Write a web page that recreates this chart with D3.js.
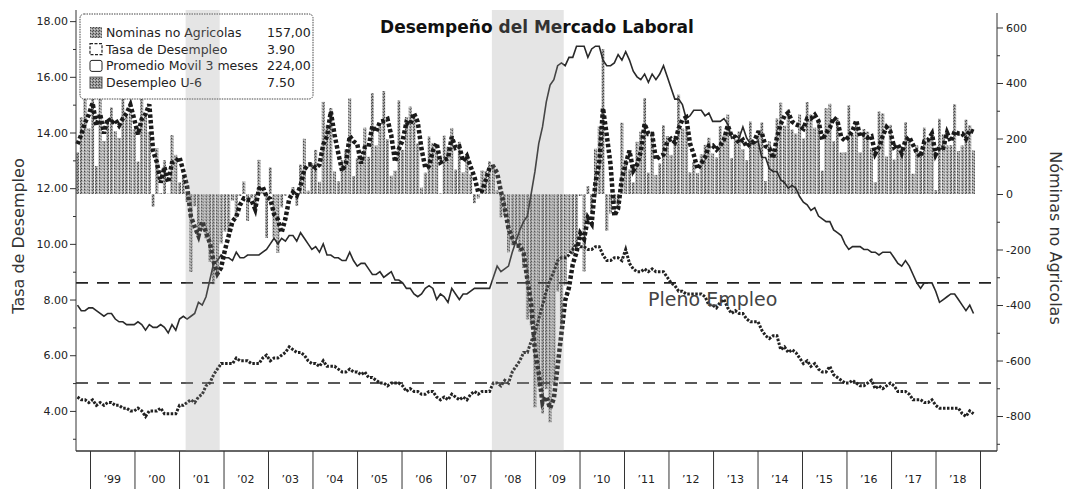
<!DOCTYPE html>
<html><head><meta charset="utf-8">
<script src="https://cdn.jsdelivr.net/npm/d3@7"></script>
<style>
body{margin:0;background:#fff}
svg{display:block}
text{font-family:"DejaVu Sans",Verdana,sans-serif}
</style>
</head><body>
<svg id="c" width="1067" height="489"></svg>
<script>
// ---------------- DATA (monthly, Oct 1998 - Jul 2018) ----------------
const startMonth = new Date(1998, 9, 1);

// Nominas no Agricolas (monthly change, thousands) - right axis
const nominas = [
  150, 276, 345,
  237, 402, 101, 362, 191, 264, 312, 227, 202, 387, 283, 294,
  233, 117, 460, 286, 224, -46, 165, 3, 122, 1, 212, 141,
  42, 67, -29, -281, -44, -128, -125, -160, -244, -325, -292, -178,
  -135, -137, -24, -85, -7, 45, -97, -15, -54, 123, 9, -158,
  96, -157, -212, -48, -6, -1, 25, -42, 106, 199, 12, 111,
  159, 44, 332, 249, 310, 81, 46, 122, 161, 345, 65, 129,
  136, 239, 134, 363, 175, 243, 371, 197, 66, 84, 337, 159,
  277, 315, 280, 182, 23, 77, 207, 184, 157, 2, 210, 171,
  238, 88, 188, 78, 144, 71, -33, -16, 85, 82, 118, 97,
  13, -84, -78, -210, -185, -165, -209, -266, -452, -473, -769, -695,
  -791, -703, -823, -686, -351, -470, -329, -212, -219, -200, -7, -279,
  28, -69, 163, 243, 522, -133, -70, -34, -52, 257, 123, 88,
  42, 188, 225, 346, 77, 225, 69, 110, 248, 209, 141, 209,
  358, 237, 233, 78, 115, 76, 143, 177, 203, 146, 132, 244,
  211, 286, 130, 197, 226, 162, 122, 261, 190, 212, 258, 47,
  190, 151, 272, 329, 246, 304, 232, 218, 286, 200, 331, 286,
  239, 265, 84, 309, 325, 190, 274, 150, 151, 319, 215, 260,
  150, 234, 225, 166, 43, 297, 291, 135, 249, 124, 164, 155,
  259, 200, 73, 175, 155, 239, 190, 221, 14, 271, 216, 175,
  176, 324, 155, 175, 268, 248, 157
];

// Promedio Movil 3 meses (thousands) - right axis
const promedioMovil = [
  180, 214, 257,
  286, 328, 247, 288, 218, 272, 256, 268, 247, 272, 291, 321,
  270, 215, 270, 288, 323, 155, 114, 41, 97, 42, 112, 118,
  132, 83, 27, -81, -118, -151, -99, -138, -176, -243, -287, -265,
  -202, -150, -99, -82, -39, -16, -20, -22, -55, 18, 26, -9,
  -18, -73, -91, -139, -89, -18, 6, -6, 30, 88, 106, 107,
  94, 105, 178, 208, 297, 213, 146, 83, 110, 209, 190, 180,
  110, 168, 170, 245, 224, 260, 263, 270, 211, 116, 162, 193,
  258, 250, 291, 259, 162, 94, 102, 156, 183, 114, 123, 128,
  206, 166, 171, 118, 137, 98, 61, 7, 12, 50, 95, 99,
  76, 9, -50, -124, -158, -187, -186, -213, -309, -397, -565, -646,
  -752, -730, -772, -737, -620, -502, -383, -337, -253, -210, -142, -162,
  -86, -107, 41, 112, 309, 211, 106, -79, -52, 57, 109, 156,
  84, 106, 152, 253, 216, 216, 124, 135, 142, 189, 199, 186,
  236, 268, 276, 183, 142, 90, 111, 132, 174, 175, 160, 174,
  196, 247, 209, 204, 184, 195, 170, 182, 191, 221, 220, 172,
  165, 129, 204, 251, 282, 293, 261, 251, 245, 235, 272, 272,
  285, 263, 196, 219, 239, 275, 263, 205, 192, 207, 228, 265,
  208, 215, 203, 208, 145, 169, 210, 241, 225, 169, 179, 148,
  193, 205, 177, 149, 134, 190, 195, 217, 142, 169, 167, 221,
  189, 225, 218, 218, 199, 230, 224
];

// Tasa de Desempleo (%) - left axis
const tasaDesempleo = [
  4.5, 4.4, 4.4,
  4.3, 4.4, 4.2, 4.3, 4.2, 4.3, 4.3, 4.2, 4.2, 4.1, 4.1, 4.0,
  4.0, 4.1, 4.0, 3.8, 4.0, 4.0, 4.0, 4.1, 3.9, 3.9, 3.9, 3.9,
  4.2, 4.2, 4.3, 4.4, 4.3, 4.5, 4.6, 4.9, 5.0, 5.3, 5.5, 5.7,
  5.7, 5.7, 5.7, 5.9, 5.8, 5.8, 5.8, 5.7, 5.7, 5.7, 5.9, 6.0,
  5.8, 5.9, 5.9, 6.0, 6.1, 6.3, 6.2, 6.1, 6.1, 6.0, 5.8, 5.7,
  5.7, 5.6, 5.8, 5.6, 5.6, 5.6, 5.5, 5.4, 5.4, 5.5, 5.4, 5.4,
  5.3, 5.4, 5.2, 5.2, 5.1, 5.0, 5.0, 4.9, 5.0, 5.0, 5.0, 4.9,
  4.7, 4.8, 4.7, 4.7, 4.6, 4.6, 4.7, 4.7, 4.5, 4.4, 4.5, 4.4,
  4.6, 4.5, 4.4, 4.5, 4.4, 4.6, 4.7, 4.6, 4.7, 4.7, 4.7, 5.0,
  5.0, 4.9, 5.1, 5.0, 5.4, 5.6, 5.8, 6.1, 6.1, 6.5, 6.8, 7.3,
  7.8, 8.3, 8.7, 9.0, 9.4, 9.5, 9.5, 9.6, 9.8, 10.0, 9.9, 9.9,
  9.8, 9.8, 9.9, 9.9, 9.6, 9.4, 9.4, 9.5, 9.5, 9.4, 9.8, 9.3,
  9.1, 9.0, 9.0, 9.1, 9.0, 9.1, 9.0, 9.0, 9.0, 8.8, 8.6, 8.5,
  8.3, 8.3, 8.2, 8.2, 8.2, 8.2, 8.2, 8.1, 7.8, 7.8, 7.7, 7.9,
  8.0, 7.7, 7.5, 7.6, 7.5, 7.5, 7.3, 7.2, 7.2, 7.2, 6.9, 6.7,
  6.6, 6.7, 6.7, 6.2, 6.3, 6.1, 6.2, 6.1, 5.9, 5.7, 5.8, 5.6,
  5.7, 5.5, 5.4, 5.4, 5.6, 5.3, 5.2, 5.1, 5.0, 5.0, 5.1, 5.0,
  4.9, 4.9, 5.0, 5.1, 4.8, 4.9, 4.8, 4.9, 5.0, 4.9, 4.7, 4.7,
  4.7, 4.6, 4.4, 4.4, 4.4, 4.3, 4.3, 4.4, 4.2, 4.1, 4.1, 4.1,
  4.1, 4.1, 4.1, 3.9, 3.8, 4.0, 3.9
];

// Desempleo U-6 (%) - left axis
const desempleoU6 = [
  7.8, 7.6, 7.6,
  7.7, 7.7, 7.6, 7.5, 7.4, 7.5, 7.5, 7.3, 7.2, 7.2, 7.1, 7.1,
  7.1, 7.2, 7.1, 6.9, 7.1, 7.0, 7.0, 7.1, 7.0, 6.8, 7.1, 6.9,
  7.3, 7.4, 7.3, 7.4, 7.5, 7.9, 7.8, 8.1, 8.7, 9.3, 9.4, 9.6,
  9.5, 9.5, 9.4, 9.7, 9.5, 9.5, 9.6, 9.6, 9.6, 9.6, 9.7, 9.8,
  10.0, 10.2, 10.0, 10.2, 10.1, 10.3, 10.3, 10.1, 10.4, 10.2, 10.0, 9.8,
  9.9, 9.7, 10.0, 9.6, 9.6, 9.5, 9.5, 9.4, 9.4, 9.7, 9.4, 9.2,
  9.3, 9.3, 9.1, 8.9, 8.9, 9.0, 8.8, 8.9, 9.0, 8.7, 8.7, 8.6,
  8.4, 8.4, 8.2, 8.1, 8.2, 8.4, 8.5, 8.4, 8.0, 8.2, 8.1, 7.9,
  8.4, 8.2, 8.0, 8.2, 8.2, 8.3, 8.4, 8.4, 8.4, 8.4, 8.4, 8.8,
  9.2, 9.0, 9.1, 9.2, 9.7, 10.1, 10.5, 10.8, 11.0, 11.8, 12.6, 13.6,
  14.2, 15.1, 15.7, 15.9, 16.4, 16.5, 16.4, 16.7, 16.7, 17.1, 17.1, 17.1,
  16.7, 17.0, 17.1, 17.1, 16.6, 16.4, 16.4, 16.5, 16.8, 16.6, 16.9, 16.6,
  16.2, 16.0, 15.9, 16.1, 15.8, 16.1, 15.9, 16.1, 16.4, 16.0, 15.6, 15.2,
  15.2, 15.0, 14.5, 14.6, 14.8, 14.8, 14.8, 14.6, 14.7, 14.4, 14.4, 14.4,
  14.5, 14.3, 13.8, 13.9, 13.8, 14.2, 13.8, 13.6, 13.6, 13.7, 13.1, 13.1,
  12.7, 12.6, 12.6, 12.3, 12.2, 12.0, 12.1, 12.0, 11.7, 11.5, 11.4, 11.2,
  11.3, 11.0, 10.9, 10.8, 10.8, 10.5, 10.4, 10.3, 10.0, 9.8, 9.9, 9.9,
  9.9, 9.8, 9.8, 9.7, 9.7, 9.6, 9.7, 9.7, 9.7, 9.5, 9.3, 9.2,
  9.4, 9.2, 8.9, 8.6, 8.4, 8.6, 8.6, 8.6, 8.3, 7.9, 8.0, 8.1,
  8.2, 8.2, 8.0, 7.8, 7.6, 7.8, 7.5
];

const recesiones = [["2001-03", "2001-11"], ["2007-12", "2009-06"]];
const plenoEmpleo = [8.6, 5.0];
const yearLabels = ["’99","’00","’01","’02","’03","’04","’05","’06","’07","’08","’09","’10","’11","’12","’13","’14","’15","’16","’17","’18"];
const leftTicks = [4, 6, 8, 10, 12, 14, 16, 18];
const leftMinor = [3, 5, 7, 9, 11, 13, 15, 17];
const rightTicks = [600, 400, 200, 0, -200, -400, -600, -800];
const rightMinor = [500, 300, 100, -100, -300, -500, -700, -900];
const legendNames = ["Nominas no Agricolas", "Tasa de Desempleo", "Promedio Movil 3 meses", "Desempleo U-6"];
const legendValues = ["157,00", "3.90", "224,00", "7.50"];

// ---------------- CHART ----------------
const svg = d3.select("#c");
const P = {left: 76, right: 997, top: 10, bottom: 451};

const months = d3.timeMonth.range(startMonth, d3.timeMonth.offset(startMonth, nominas.length));
const key = d3.timeFormat("%Y-%m");
const keys = months.map(key);

const x = d3.scaleBand().domain(keys).range([76, 975]).paddingInner(0.22).paddingOuter(0);
const step = x.step();
const xc = i => x(keys[i]) + x.bandwidth() / 2;
const years = d3.range(1999, 2020).map(y => new Date(y, 0, 1));
const xYear = d3.scaleTime().domain([years[0], years[years.length - 1]]).range([90, 980]);
const yL = d3.scaleLinear().domain([2.56, 18.4]).range([P.bottom, P.top]);
const yR = d3.scaleLinear().domain([-926, 663]).range([P.bottom, P.top]);

const defs = svg.append("defs");
const pat = defs.append("pattern").attr("id", "stip").attr("width", 3).attr("height", 3)
  .attr("patternUnits", "userSpaceOnUse");
pat.append("rect").attr("width", 3).attr("height", 3).attr("fill", "#9c9c9c");
pat.append("rect").attr("x", 0).attr("y", 0).attr("width", 1).attr("height", 1).attr("fill", "#444");
pat.append("rect").attr("x", 2).attr("y", 1).attr("width", 1).attr("height", 1).attr("fill", "#555");
pat.append("rect").attr("x", 1).attr("y", 2).attr("width", 1).attr("height", 1).attr("fill", "#d0d0d0");

// bars
svg.append("g").selectAll("rect").data(nominas).join("rect")
  .attr("x", (d, i) => x(keys[i]))
  .attr("width", x.bandwidth())
  .attr("y", d => Math.min(yR(d), yR(0)))
  .attr("height", d => Math.abs(yR(d) - yR(0)))
  .attr("fill", "url(#stip)");

// full employment reference lines
svg.append("g").selectAll("line").data(plenoEmpleo).join("line")
  .attr("x1", P.left).attr("x2", P.right)
  .attr("y1", d => yL(d)).attr("y2", d => yL(d))
  .attr("stroke", "#222").attr("stroke-width", 1.6).attr("stroke-dasharray", "12,9");

// lines
const lineL = d3.line().x((d, i) => xc(i)).y(d => yL(d));
const lineR = d3.line().x((d, i) => xc(i)).y(d => yR(d));

svg.append("path").datum(desempleoU6).attr("d", lineL)
  .attr("fill", "none").attr("stroke", "#2a2a2a").attr("stroke-width", 1.6);
svg.append("path").datum(tasaDesempleo).attr("d", lineL)
  .attr("fill", "none").attr("stroke", "#222").attr("stroke-width", 3).attr("stroke-dasharray", "2.5,1.5");
svg.append("path").datum(promedioMovil).attr("d", lineR)
  .attr("fill", "none").attr("stroke", "#1a1a1a").attr("stroke-width", 4.5).attr("stroke-dasharray", "3.5,2.2");

// axes
function styleAxis(g) {
  g.select(".domain").remove();
  g.selectAll("line").attr("stroke", "#333");
  g.selectAll("text").attr("fill", "#222").style("font-size", "11px")
    .style("font-family", '"DejaVu Sans",Verdana,sans-serif');
}
svg.append("g").attr("transform", `translate(${P.left},0)`)
  .call(d3.axisLeft(yL).tickValues(leftTicks).tickSize(6).tickPadding(2).tickFormat(d3.format(".2f")))
  .call(styleAxis);
svg.append("g").attr("transform", `translate(${P.left},0)`)
  .call(d3.axisLeft(yL).tickValues(leftMinor).tickSize(3).tickFormat(""))
  .call(styleAxis);
svg.append("g").attr("transform", `translate(${P.right},0)`)
  .call(d3.axisRight(yR).tickValues(rightTicks).tickSize(6).tickPadding(3).tickFormat(d => String(d)))
  .call(styleAxis);
svg.append("g").attr("transform", `translate(${P.right},0)`)
  .call(d3.axisRight(yR).tickValues(rightMinor).tickSize(3).tickFormat(""))
  .call(styleAxis);
svg.append("g").attr("transform", `translate(0,${P.bottom})`)
  .call(d3.axisBottom(xYear).tickValues(years).tickSize(38).tickFormat(""))
  .call(styleAxis);
svg.append("g").selectAll("text").data(yearLabels).join("text")
  .attr("x", (d, i) => (xYear(years[i]) + xYear(years[i + 1])) / 2)
  .attr("y", 483).attr("text-anchor", "middle")
  .style("font-size", "11px").attr("fill", "#222").text(d => d);

svg.append("line").attr("x1", P.left).attr("x2", P.left).attr("y1", P.top).attr("y2", P.bottom).attr("stroke", "#333");
svg.append("line").attr("x1", P.right).attr("x2", P.right).attr("y1", 13).attr("y2", P.bottom).attr("stroke", "#333");
svg.append("line").attr("x1", P.left).attr("x2", P.right).attr("y1", P.bottom).attr("y2", P.bottom).attr("stroke", "#333").attr("stroke-width", 1.3);

// axis titles
svg.append("text").attr("transform", "translate(24,236) rotate(-90)").attr("text-anchor", "middle")
  .style("font-size", "16px").attr("fill", "#333").text("Tasa de Desempleo");
svg.append("text").attr("transform", "translate(1050,238) rotate(90)").attr("text-anchor", "middle")
  .style("font-size", "16px").attr("fill", "#333").text("Nóminas no Agricolas");

// title
svg.append("text").attr("x", 537).attr("y", 33).attr("text-anchor", "middle")
  .style("font-size", "17px").style("font-weight", "bold").attr("fill", "#111")
  .text("Desempeño del Mercado Laboral");

// legend
const lg = svg.append("g");
lg.append("rect").attr("x", 80).attr("y", 14).attr("width", 233).attr("height", 85).attr("rx", 4)
  .attr("fill", "#fff").attr("stroke", "#444").attr("stroke-dasharray", "1.5,1");
const rowY = i => 37 + i * 16.7;
legendNames.forEach((n, i) => {
  const sy = rowY(i) - 10;
  const sw = lg.append("rect").attr("x", 90).attr("y", sy).attr("width", 12).attr("height", 11);
  if (i === 0) sw.attr("fill", "url(#stip)");
  else if (i === 1) sw.attr("fill", "#fff").attr("stroke", "#222").attr("stroke-dasharray", "3,1.5").attr("stroke-width", 1.2);
  else if (i === 2) sw.attr("fill", "#fff").attr("stroke", "#222").attr("rx", 2);
  else sw.attr("fill", "url(#stip)").attr("stroke", "#555");
  lg.append("text").attr("x", 106).attr("y", rowY(i)).style("font-size", "12.5px").attr("fill", "#222").text(n);
  lg.append("text").attr("x", 267).attr("y", rowY(i)).style("font-size", "12.5px").attr("fill", "#222").text(legendValues[i]);
});

// recession shading (on top, translucent)
svg.append("g").selectAll("rect").data(recesiones).join("rect")
  .attr("x", d => x(d[0]))
  .attr("width", d => x(d[1]) + step - x(d[0]))
  .attr("y", P.top).attr("height", P.bottom - P.top)
  .attr("fill", "#999").attr("opacity", 0.25);

// annotation
svg.append("text").attr("x", 648).attr("y", 306).style("font-size", "19px").attr("fill", "#444")
  .text("Pleno Empleo");
</script>
</body></html>
